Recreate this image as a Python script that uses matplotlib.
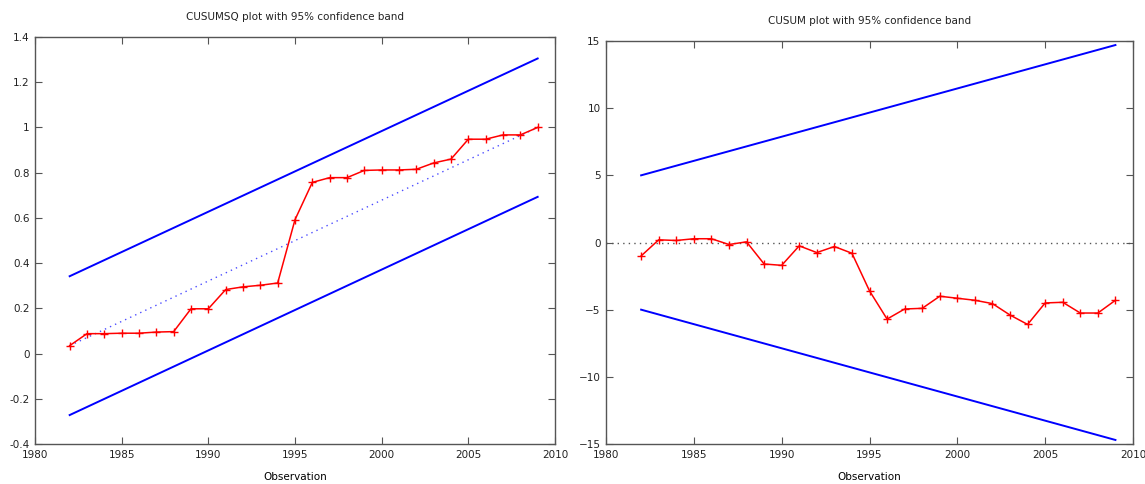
from matplotlib import pyplot as plt
import numpy as np

years = np.arange(1982, 2010)

# CUSUMSQ values
cusumsq = [0.035, 0.088, 0.088, 0.09, 0.09, 0.095, 0.097, 0.198, 0.198, 0.283,
           0.295, 0.302, 0.312, 0.592, 0.757, 0.778, 0.778, 0.81, 0.812, 0.812,
           0.815, 0.843, 0.86, 0.948, 0.948, 0.967, 0.967, 1.0]
# CUSUM values
cusum = [-1.0, 0.2, 0.15, 0.28, 0.28, -0.15, 0.05, -1.6, -1.7, -0.25,
         -0.75, -0.3, -0.8, -3.6, -5.7, -4.95, -4.9, -4.0, -4.15, -4.3,
         -4.55, -5.4, -6.1, -4.5, -4.45, -5.25, -5.25, -4.3]

band_years = [1982, 2009]
sq_upper = [0.342, 1.305]
sq_lower = [-0.272, 0.693]
sq_mid = [0.035, 1.0]
cs_upper = [5.0, 14.7]
cs_lower = [-5.0, -14.7]

plt.rcParams['font.family'] = ['DejaVu Sans']
plt.rcParams['font.size'] = 7.5
plt.rcParams['text.color'] = '#222222'

fig = plt.figure(figsize=(11.45, 4.84), dpi=100)
W, H = 1145., 484.
ax1 = fig.add_axes([35/W, 1-444/H, (555-35)/W, (444-37)/H])
ax2 = fig.add_axes([606/W, 1-444/H, (1133-606)/W, (444-41)/H])

def style(ax):
    for sp in ax.spines.values():
        sp.set_color('#555555')
        sp.set_linewidth(1.0)
    ax.tick_params(direction='in', top=True, right=True, length=5,
                   color='#555555', labelcolor='#222222', labelsize=7.5, pad=4)
    ax.set_xlim(1980, 2010)
    ax.set_xticks([1980, 1985, 1990, 1995, 2000, 2005, 2010])
    ax.set_xlabel('Observation', fontsize=7.5, labelpad=9)

# left: CUSUMSQ
ax1.plot(band_years, sq_upper, color='#0000ff', lw=1.4)
ax1.plot(band_years, sq_lower, color='#0000ff', lw=1.4)
ax1.plot(band_years, sq_mid, color='#0000ff', lw=1.0, ls=(0, (1, 3)), alpha=0.7)
ax1.plot(years, cusumsq, color='#ff0000', lw=1.1, marker='+', ms=5.5, mew=1.0)
ax1.set_ylim(-0.4, 1.4)
ax1.set_yticks([-0.4, -0.2, 0, 0.2, 0.4, 0.6, 0.8, 1, 1.2, 1.4])
ax1.set_yticklabels(['-0.4', '-0.2', '0', '0.2', '0.4', '0.6', '0.8', '1', '1.2', '1.4'])
ax1.set_title('CUSUMSQ plot with 95% confidence band', fontsize=7.5, pad=12)
style(ax1)

# right: CUSUM
ax2.axhline(0, color='#555555', lw=1.0, ls=(0, (1, 3)))
ax2.plot(band_years, cs_upper, color='#0000ff', lw=1.4)
ax2.plot(band_years, cs_lower, color='#0000ff', lw=1.4)
ax2.plot(years, cusum, color='#ff0000', lw=1.1, marker='+', ms=5.5, mew=1.0)
ax2.set_ylim(-15, 15)
ax2.set_yticks([-15, -10, -5, 0, 5, 10, 15])
ax2.set_title('CUSUM plot with 95% confidence band', fontsize=7.5, pad=12)
style(ax2)

plt.savefig('out.png', dpi=100)
plt.close()
